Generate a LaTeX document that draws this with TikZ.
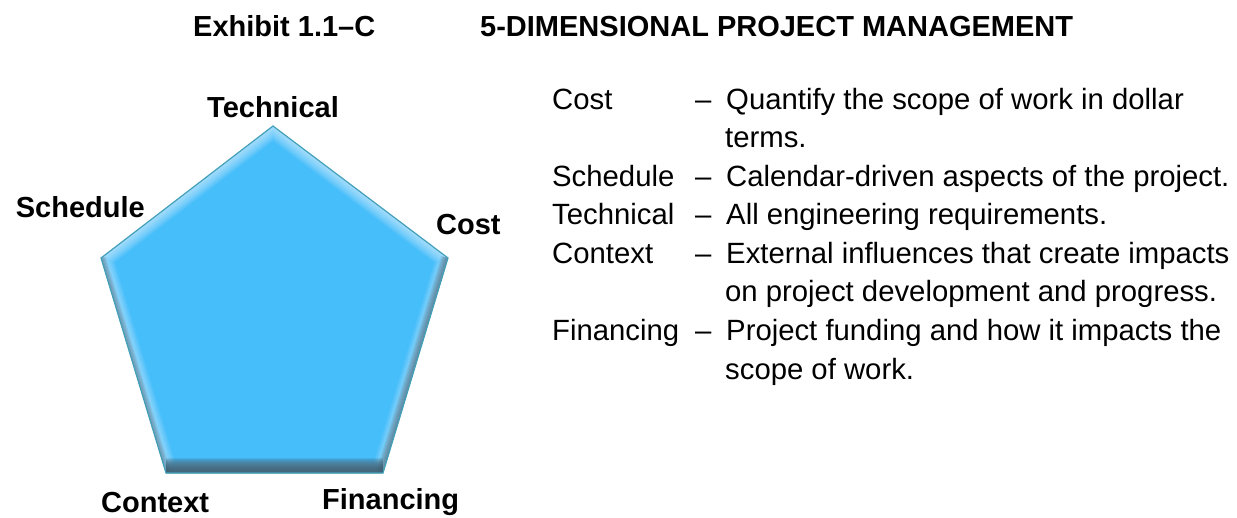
\documentclass[tikz,border=0pt]{standalone}
\usepackage{fontspec}
\setmainfont{Liberation Sans}
\usepackage{tikz}
\definecolor{pentfill}{RGB}{70,190,250}
\definecolor{pentedge}{RGB}{66,160,185}
\definecolor{pentshade}{RGB}{62,95,115}

\begin{document}
\begin{tikzpicture}[
    x=1pt, y=-1pt,
    heading/.style={anchor=base west, inner sep=0pt, font=\fontsize{29}{35}\selectfont\bfseries},
    corner/.style={anchor=base, inner sep=0pt, font=\fontsize{29}{35}\selectfont\bfseries},
    term/.style={anchor=base west, inner sep=0pt, font=\fontsize{29.3}{35}\selectfont},
    glow/.style={white, opacity=0.06},
    shade/.style={pentshade, opacity=0.13}
]
\useasboundingbox (0,0) rectangle (1237,517);

% Title
\node[heading] (exhibit) at (193,36) {Exhibit 1.1--C};
\node[heading] (title) at (480,36) {5-DIMENSIONAL PROJECT MANAGEMENT};

% Pentagon corners
\coordinate (top) at (273,126);
\coordinate (right) at (448,258);
\coordinate (br) at (383,473);
\coordinate (bl) at (166,473);
\coordinate (left) at (101,258);

% Pentagon with bevel
\fill[pentfill] (top) -- (right) -- (br) -- (bl) -- (left) -- cycle;
\begin{scope}
  \clip (top) -- (right) -- (br) -- (bl) -- (left) -- cycle;
  \foreach \w in {2,4,...,24}
    \draw[glow, line width=\w pt] (bl) -- (left) -- (top) -- (right) -- (br) -- (bl);
  \foreach \w in {2,4,...,10}
    \draw[shade, line width=\w pt] (left) -- (bl);
  \foreach \w in {2,4,...,14}
    \draw[shade, line width=\w pt] (right) -- (br);
  \foreach \w in {2,4,...,30}
    \draw[shade, opacity=0.16, line width=\w pt] (bl) -- (br);
\end{scope}
\draw[pentedge, line width=1.2pt, line join=miter] (top) -- (right) -- (br) -- (bl) -- (left) -- cycle;

% Corner labels
\node[corner] (technical) at (273,117) {Technical};
\node[corner, anchor=base east] (schedule) at (145,217) {Schedule};
\node[corner, anchor=base west] (cost) at (436,234) {Cost};
\node[corner, anchor=base west] (context) at (101,512) {Context};
\node[corner, anchor=base west] (financing) at (322,509) {Financing};

% Right column - terms
\node[term] (tcost) at (552,109) {Cost};
\node[term] (tschedule) at (552,186.1) {Schedule};
\node[term] (ttechnical) at (552,224.7) {Technical};
\node[term] (tcontext) at (552,263.3) {Context};
\node[term] (tfinancing) at (552,340.4) {Financing};

% Dashes
\node[term] (dcost) at (695,109) {--};
\node[term] (dschedule) at (695,186.1) {--};
\node[term] (dtechnical) at (695,224.7) {--};
\node[term] (dcontext) at (695,263.3) {--};
\node[term] (dfinancing) at (695,340.4) {--};

% Descriptions
\node[term] (qcost) at (726,109) {Quantify the scope of work in dollar};
\node[term] (qcost2) at (725,147.6) {terms.};
\node[term] (qschedule) at (726,186.1) {Calendar-driven aspects of the project.};
\node[term] (qtechnical) at (726,224.7) {All engineering requirements.};
\node[term] (qcontext) at (726,263.3) {External influences that create impacts};
\node[term] (qcontext2) at (725,301.9) {on project development and progress.};
\node[term] (qfinancing) at (726,340.4) {Project funding and how it impacts the};
\node[term] (qfinancing2) at (725,379) {scope of work.};

\end{tikzpicture}
\end{document}
